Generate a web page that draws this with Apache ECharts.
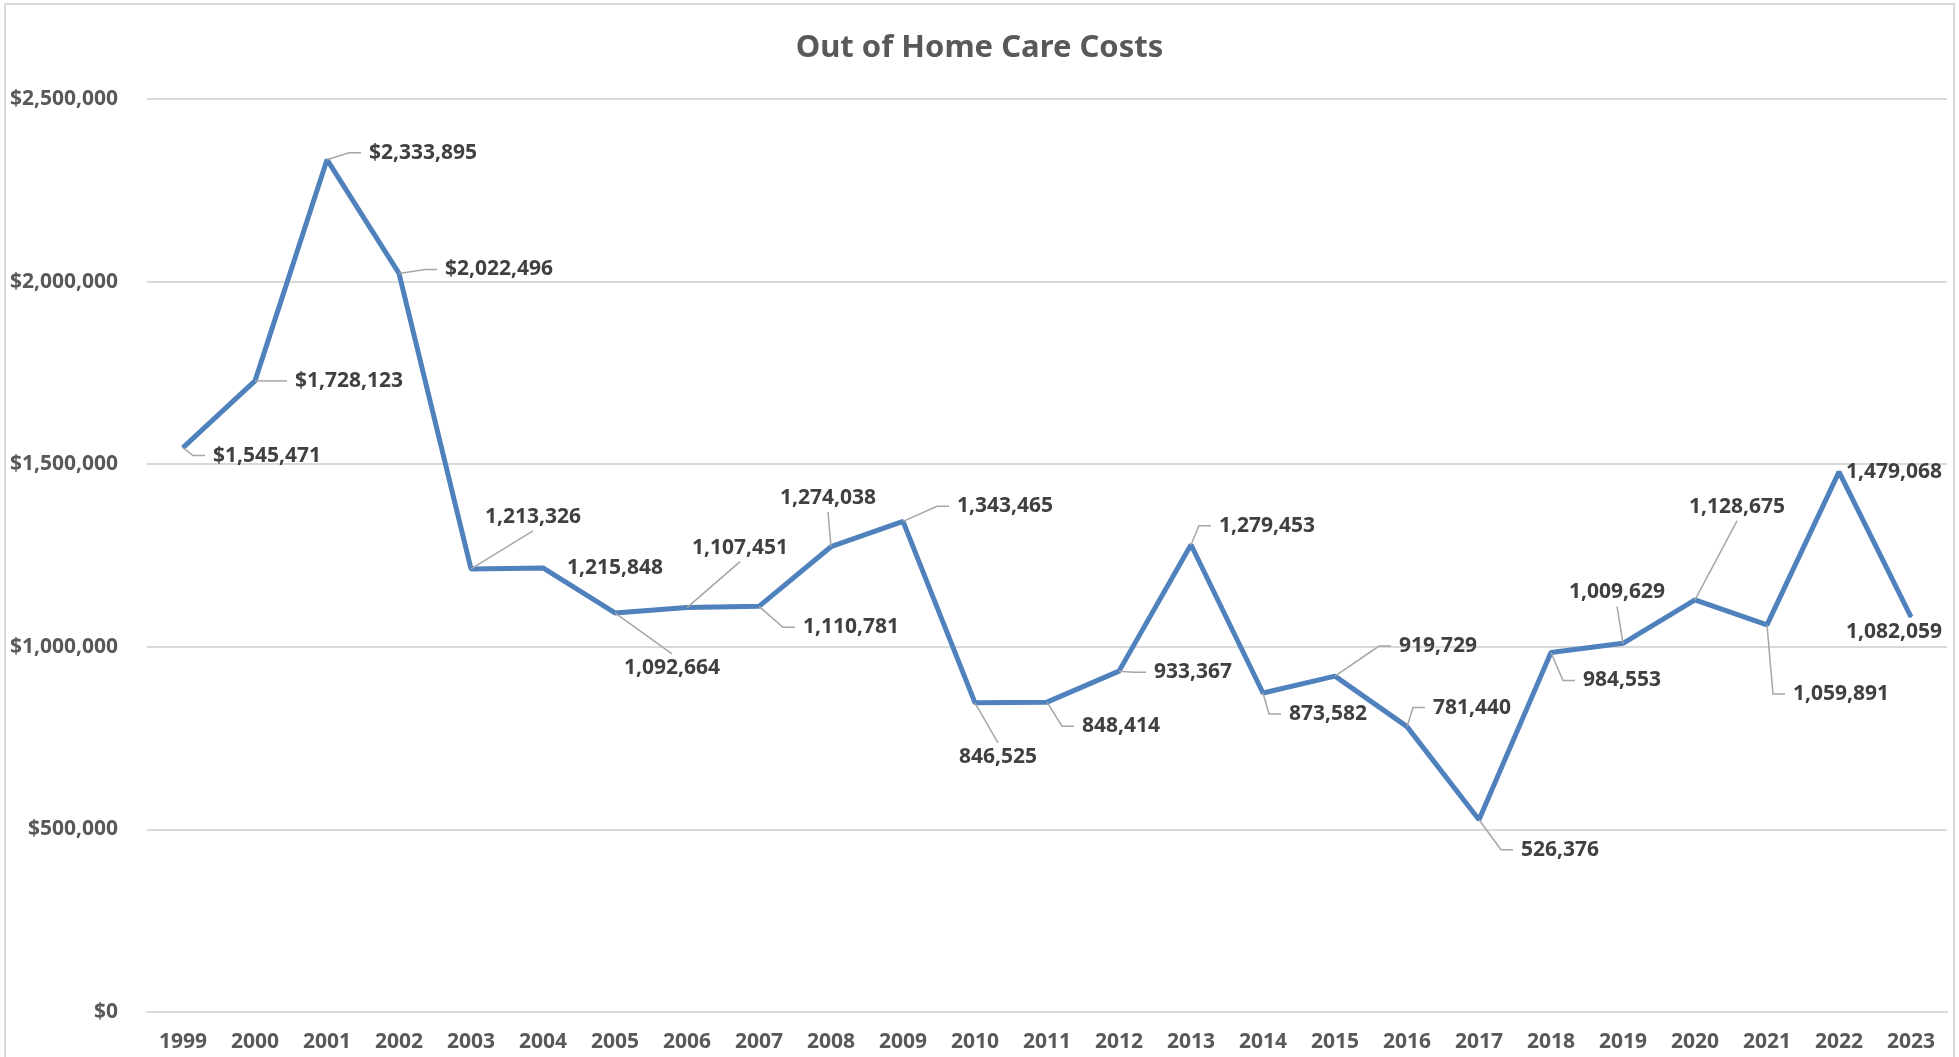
<!DOCTYPE html>
<html>
<head>
<meta charset="utf-8">
<title>Out of Home Care Costs</title>
<script src="https://cdn.jsdelivr.net/npm/echarts@6/dist/echarts.min.js"></script>
<style>
html, body { margin: 0; padding: 0; background: #fff; }
#main { position: absolute; left: 0; top: 0; width: 1959px; height: 1057px; }
#frame { position: absolute; left: 4px; top: 3px; width: 1947px; height: 1100px; border: 2px solid #d9d9d9; pointer-events: none; }
</style>
</head>
<body>
<div id="main"></div>
<div id="frame"></div>
<script>
// data
const years = ['1999', '2000', '2001', '2002', '2003', '2004', '2005', '2006', '2007', '2008', '2009', '2010',
	'2011', '2012', '2013', '2014', '2015', '2016', '2017', '2018', '2019', '2020', '2021', '2022', '2023'];
const costs = [1545471, 1728123, 2333895, 2022496, 1213326, 1215848, 1092664, 1107451, 1110781, 1274038,
	1343465, 846525, 848414, 933367, 1279453, 873582, 919729, 781440, 526376, 984553,
	1009629, 1128675, 1059891, 1479068, 1082059];
const yMin = 0;
const yMax = 2500000;
const yStep = 500000;
const dollarLabels = 4; // first labels were formatted as currency

// where each data label sits relative to its point (px), as in the original
const labelOffsets = [[30, 8], [40, 0], [42, -7], [46, -4], [14, -52], [24, 0], [9, 55], [5, -60],
	[44, 21], [-51, -49], [54, -15], [-16, 54], [35, 24], [35, 1], [28, -19], [26, 21], [64, -30],
	[26, -19], [42, 30], [32, 28], [-54, -51], [-6, -93], [26, 69], [7, 0], [-65, 15]];
// which side of the label the leader line hooks into ('' = no leader)
const leaderSides = ['L', 'L', 'L', 'L', 'B', '', 'T', 'B', 'L', 'B', 'L', 'T', 'L', 'L', 'L', 'L', 'L',
	'L', 'L', 'L', 'B', 'B', 'L', '', ''];

function commas(v) {
	return String(v).replace(/\B(?=(\d{3})+(?!\d))/g, ',');
}
function labelText(i) {
	return (i < dollarLabels ? '$' : '') + commas(costs[i]);
}

const font = '"Noto Sans", "Open Sans", sans-serif';
const labelSize = 21;
const measureCtx = document.createElement('canvas').getContext('2d');
measureCtx.font = 'bold ' + labelSize + 'px ' + font;

let myChart = echarts.init(document.getElementById('main'));

let option = {
	animation: false,
	backgroundColor: '#fff',
	title: {
		text: 'Out of Home Care Costs',
		left: 'center',
		top: 33,
		padding: 0,
		textStyle: {
			fontFamily: font,
			fontSize: 31,
			fontWeight: 'bold',
			color: '#595959'
		}
	},
	grid: {
		left: 147,
		right: 12,
		top: 99,
		bottom: 45
	},
	xAxis: {
		type: 'category',
		data: years,
		boundaryGap: true,
		axisTick: { show: false },
		axisLine: { lineStyle: { color: '#d9d9d9', width: 2 } },
		axisLabel: {
			margin: 20,
			fontFamily: font,
			fontSize: 21,
			fontWeight: 'bold',
			color: '#595959'
		}
	},
	yAxis: {
		type: 'value',
		min: yMin,
		max: yMax,
		interval: yStep,
		axisLine: { show: false },
		axisTick: { show: false },
		splitLine: { lineStyle: { color: '#d9d9d9', width: 2 } },
		axisLabel: {
			margin: 29,
			fontFamily: font,
			fontSize: 21,
			fontWeight: 'bold',
			color: '#595959',
			formatter: function (v) {
				return '$' + commas(v);
			}
		}
	},
	series: [{
		name: 'Out of Home Care Costs',
		type: 'line',
		data: costs,
		symbol: 'circle',
		symbolSize: 2,
		showAllSymbol: true,
		z: 2,
		lineStyle: { color: '#4f81bd', width: 5 },
		itemStyle: { color: '#4f81bd' },
		label: {
			show: true,
			fontFamily: font,
			fontSize: labelSize,
			fontWeight: 'bold',
			color: '#404040',
			formatter: function (p) {
				return labelText(p.dataIndex);
			}
		},
		labelLayout: function (p) {
			const o = labelOffsets[p.dataIndex];
			return {
				x: p.rect.x + p.rect.width / 2 + o[0],
				y: p.rect.y + p.rect.height / 2 + o[1],
				align: 'left',
				verticalAlign: 'middle'
			};
		}
	}, {
		// leader lines from each point to its label
		type: 'custom',
		silent: true,
		z: 3,
		data: costs.map(function (v, i) { return [i, v]; }),
		encode: { x: 0, y: 1 },
		renderItem: function (params, api) {
			const i = params.dataIndex;
			const side = leaderSides[i];
			if (!side) return null;
			const p = api.coord([api.value(0), api.value(1)]);
			const o = labelOffsets[i];
			const x = p[0] + o[0];
			const y = p[1] + o[1];
			const w = measureCtx.measureText(labelText(i)).width;
			let pts;
			if (side === 'L') {
				pts = [p, [x - 20, y], [x - 8, y]];
			} else if (side === 'B') {
				pts = [p, [x + w / 2, y + 14]];
			} else {
				pts = [p, [x + w / 2, y - 14]];
			}
			return {
				type: 'polyline',
				shape: { points: pts },
				style: { stroke: '#a6a6a6', lineWidth: 1.5, fill: null }
			};
		}
	}]
};

myChart.setOption(option);
</script>
</body>
</html>
